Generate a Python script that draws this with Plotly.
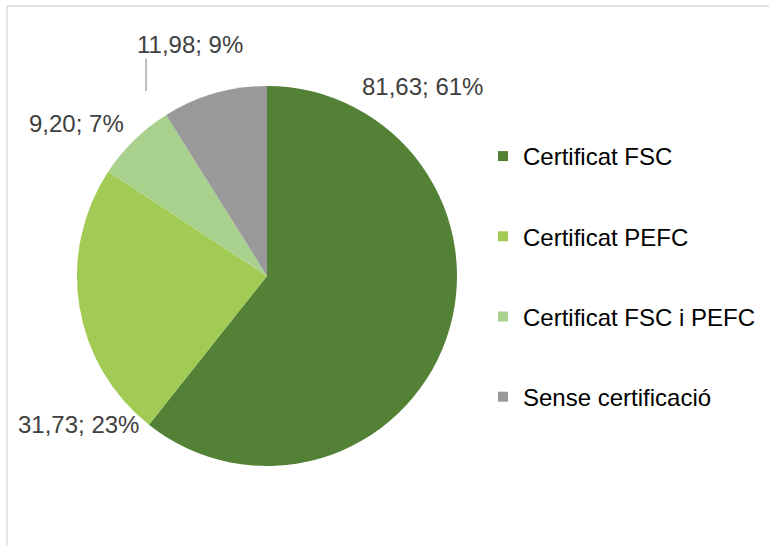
import plotly.graph_objects as go

categories = ["Certificat FSC", "Certificat PEFC", "Certificat FSC i PEFC", "Sense certificació"]
values = [81.63, 31.73, 9.20, 11.98]
pct_labels = ["61%", "23%", "7%", "9%"]
colors = ["#538135", "#A2CB56", "#A9D18E", "#999999"]

W, H = 769, 545
FONT = "Liberation Sans, Arial, sans-serif"

# label positions (pixels, from top-left) — layout only
label_pos = [(422, 86), (78, 424), (76, 123), (190, 45)]

fig = go.Figure()
fig.add_trace(go.Pie(
    labels=categories,
    values=values,
    sort=False,
    direction="clockwise",
    rotation=0,
    marker=dict(colors=colors, line=dict(color="white", width=0)),
    textinfo="none",
    domain=dict(x=[77 / W, 457 / W], y=[1 - 466 / H, 1 - 86 / H]),
    showlegend=False,
    hoverinfo="label+value",
))

# legend entries
for i, (c, col) in enumerate(zip(categories, colors)):
    fig.add_trace(go.Scatter(
        x=[None], y=[None], mode="markers",
        marker=dict(symbol="square", size=10, color=col),
        name=c, legendgroup=str(i), showlegend=True,
    ))

annotations = []
for v, p, (px, py) in zip(values, pct_labels, label_pos):
    txt = f"{v:.2f}".replace(".", ",") + "; " + p
    annotations.append(dict(
        x=px / W, y=1 - py / H, xref="paper", yref="paper",
        text=txt, showarrow=False, xanchor="center", yanchor="middle",
        font=dict(family=FONT, size=24, color="#404040"),
    ))
# leader line for the "Sense certificació" label
annotations.append(dict(
    x=146 / W, y=1 - 91 / H, xref="paper", yref="paper",
    ax=0, ay=-34, axref="pixel", ayref="pixel",
    text="", showarrow=True, arrowhead=0, arrowwidth=1, arrowcolor="#808080",
    standoff=0, startstandoff=0,
))

fig.update_layout(
    width=W, height=H,
    margin=dict(l=0, r=0, t=0, b=0, autoexpand=False),
    paper_bgcolor="white",
    plot_bgcolor="white",
    xaxis=dict(visible=False),
    yaxis=dict(visible=False),
    showlegend=True,
    legend=dict(
        x=(523 - 40) / W, y=1 - 134 / H, xanchor="left", yanchor="top",
        font=dict(family=FONT, size=24, color="#000000"),
        tracegroupgap=46,
        bgcolor="rgba(0,0,0,0)",
    ),
    annotations=annotations,
    shapes=[dict(type="rect", xref="paper", yref="paper",
                 x0=7 / W, x1=1.2, y0=-0.2, y1=1 - 6 / H,
                 line=dict(color="#C8C8C8", width=1))],
)

fig.write_html("out.html", config={"displayModeBar": False},
               post_script="document.body.style.margin='0px';")
